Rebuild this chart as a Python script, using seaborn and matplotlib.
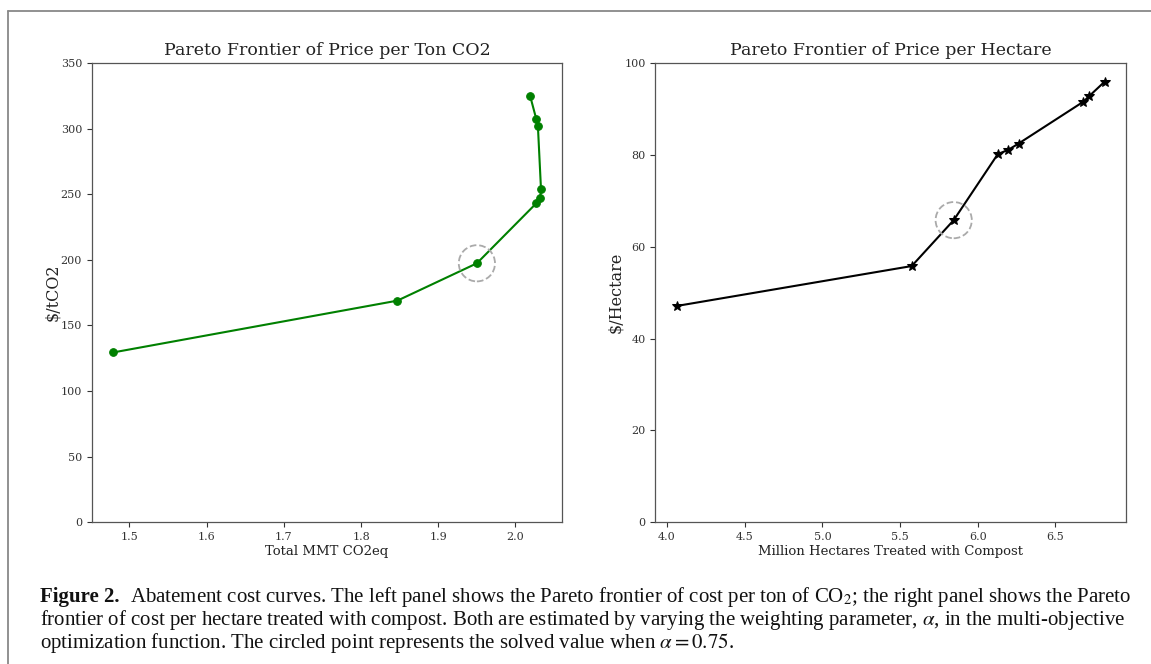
import matplotlib
matplotlib.use("Agg")
import matplotlib.pyplot as plt
import seaborn as sns
from matplotlib.lines import Line2D

# left panel: Pareto frontier of price per ton CO2 (ordered along the frontier)
co2_mmt = [1.479, 1.847, 1.950, 2.027, 2.032, 2.033, 2.029, 2.027, 2.019]
price_per_ton = [129.4, 168.9, 197.4, 243.2, 247.4, 254.1, 302.1, 307.2, 324.9]

# right panel: Pareto frontier of price per hectare
hectares_m = [4.063, 5.575, 5.845, 6.129, 6.195, 6.263, 6.679, 6.716, 6.817]
price_per_ha = [47.1, 55.8, 65.8, 80.2, 81.1, 82.5, 91.6, 92.8, 96.0]

# solved point for alpha = 0.75
solved_co2 = (1.950, 197.4)
solved_ha = (5.845, 65.8)

caption_bold = "Figure 2."
caption_lines = [
    "Abatement cost curves. The left panel shows the Pareto frontier of cost per ton of CO$_2$; the right panel shows the Pareto",
    "frontier of cost per hectare treated with compost. Both are estimated by varying the weighting parameter, $\\alpha$, in the multi-objective",
    "optimization function. The circled point represents the solved value when $\\alpha = 0.75$.",
]

sns.set_style("ticks")
plt.rcParams['font.family'] = ['DejaVu Serif']
plt.rcParams['mathtext.fontset'] = 'stix'
plt.rcParams['text.color'] = '#222222'
plt.rcParams['axes.labelcolor'] = '#222222'
plt.rcParams['xtick.color'] = '#333333'
plt.rcParams['ytick.color'] = '#333333'
plt.rcParams['axes.edgecolor'] = '#555555'

W, H = 1151, 664
fig = plt.figure(figsize=(W / 100, H / 100), dpi=100)
ax1 = fig.add_axes([0.0797, 0.2137, 0.4089, 0.6911])
ax2 = fig.add_axes([0.5694, 0.2137, 0.4090, 0.6911])

sns.lineplot(x=co2_mmt, y=price_per_ton, sort=False, estimator=None, ax=ax1,
             color='green', marker='o', markersize=5.5, markeredgecolor='green',
             linewidth=1.5)
ax1.scatter([solved_co2[0]], [solved_co2[1]], s=680, facecolors='none',
            edgecolors='#aaaaaa', linestyle='--', linewidths=1.3, zorder=5)
ax1.set_ylim(0, 350)
ax1.set_title("Pareto Frontier of Price per Ton CO2", fontsize=12.5)
ax1.set_xlabel("Total MMT CO2eq", fontsize=9.5, labelpad=2)
ax1.set_ylabel(r"\$/tCO2", fontsize=11.5, labelpad=0)

sns.lineplot(x=hectares_m, y=price_per_ha, sort=False, estimator=None, ax=ax2,
             color='black', marker='*', markersize=7, markeredgecolor='black',
             linewidth=1.5)
ax2.scatter([solved_ha[0]], [solved_ha[1]], s=680, facecolors='none',
            edgecolors='#aaaaaa', linestyle='--', linewidths=1.3, zorder=5)
ax2.set_ylim(0, 100)
ax2.set_title("Pareto Frontier of Price per Hectare", fontsize=12.5)
ax2.set_xlabel("Million Hectares Treated with Compost", fontsize=9.5, labelpad=2)
ax2.set_ylabel(r"\$/Hectare", fontsize=11.5, labelpad=0)

for ax in (ax1, ax2):
    ax.tick_params(labelsize=8, length=3.5, width=0.8)
    for sp in ax.spines.values():
        sp.set_visible(True)
        sp.set_linewidth(0.9)

# frame around the figure
fig.add_artist(Line2D([8 / W, 8 / W], [0, 1 - 11 / H], color='#888888', lw=1.3,
                      transform=fig.transFigure))
fig.add_artist(Line2D([8 / W, 1], [1 - 11 / H, 1 - 11 / H], color='#888888', lw=1.3,
                      transform=fig.transFigure))

# caption
cap_font = dict(family='Liberation Serif', fontsize=15.0, color='#111111')
baselines = [602, 625, 648]
fig.canvas.draw()
renderer = fig.canvas.get_renderer()
tb = fig.text(40 / W, 1 - baselines[0] / H, caption_bold, weight='bold',
              va='baseline', **cap_font)
bb = tb.get_window_extent(renderer)
fig.text((bb.x1 + 10) / W, 1 - baselines[0] / H, caption_lines[0], va='baseline', **cap_font)
for line, yb in zip(caption_lines[1:], baselines[1:]):
    fig.text(40 / W, 1 - yb / H, line, va='baseline', **cap_font)

fig.savefig("out.png", dpi=100)
